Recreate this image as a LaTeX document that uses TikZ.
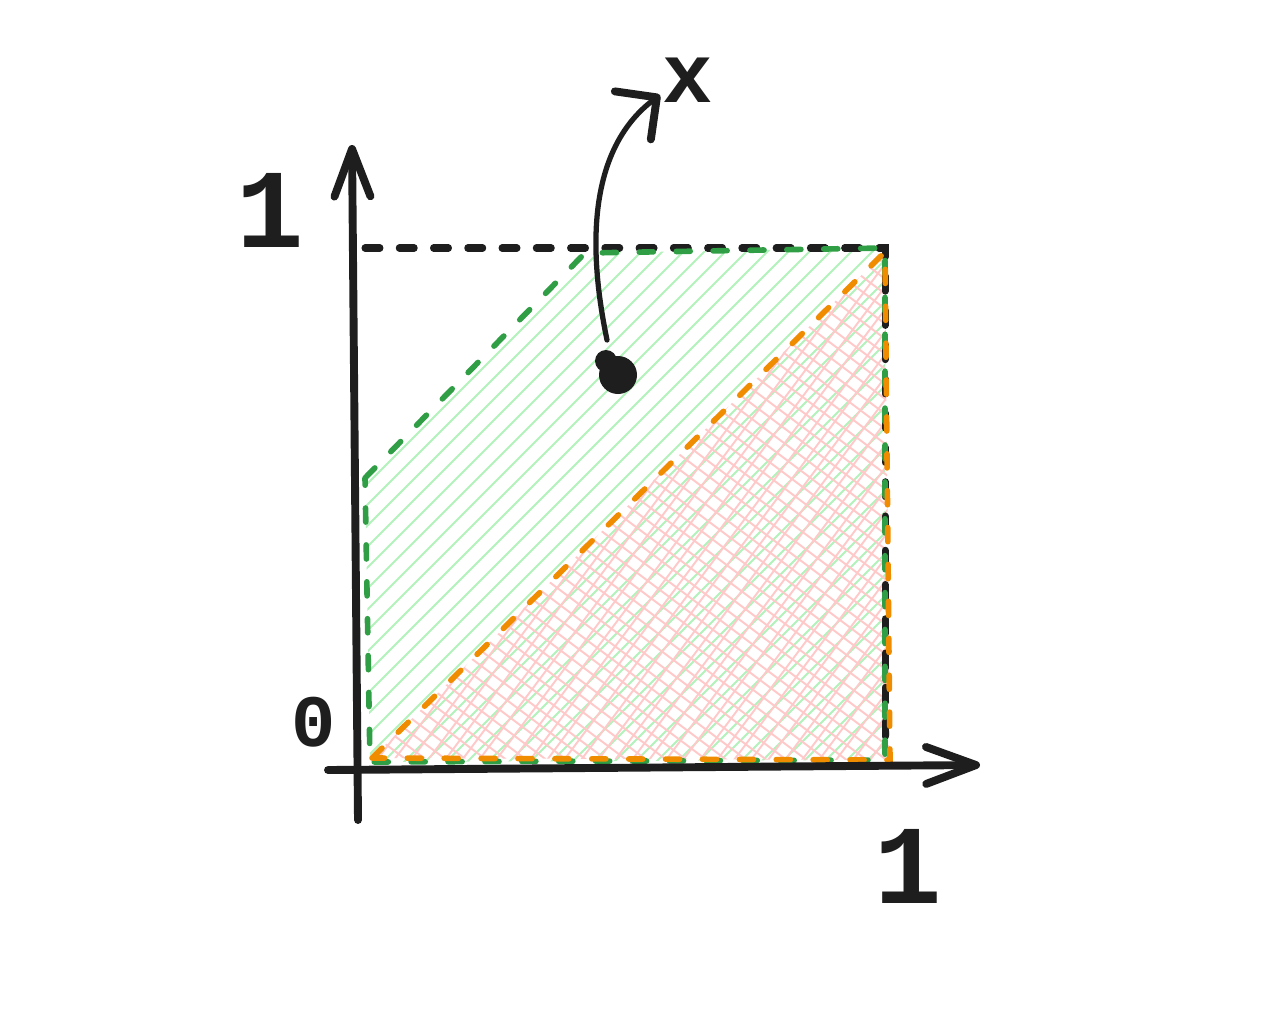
\documentclass[tikz,border=0pt]{standalone}
\usepackage{fontspec}
\newfontfamily\handfont{Liberation Mono}
\usetikzlibrary{arrows.meta,calc}
\definecolor{ink}{HTML}{1E1E1E}
\definecolor{greenedge}{HTML}{2F9E44}
\definecolor{greenhatch}{HTML}{B2F2BB}
\definecolor{orangeedge}{HTML}{F08C00}
\definecolor{pinkhatch}{HTML}{FFC9C9}

\begin{document}
\begin{tikzpicture}[x=0.02cm,y=-0.02cm,
	axis/.style={draw=ink, line width=4.5pt, line cap=round, line join=round},
	guide/.style={draw=ink, line width=4pt, line cap=round, dash pattern=on 8.5pt off 11pt},
	greenborder/.style={draw=greenedge, line width=3.2pt, line cap=round, dash pattern=on 8pt off 13pt},
	orangeborder/.style={draw=orangeedge, line width=3.2pt, line cap=round, dash pattern=on 8pt off 13pt},
	hatchgreen/.style={draw=greenhatch, line width=1.1pt},
	hatchpink/.style={draw=pinkhatch, line width=1.1pt},
	numlabel/.style={font=\handfont\bfseries\fontsize{64}{64}\selectfont, text=ink, inner sep=0pt},
	dotnode/.style={circle, fill=ink, minimum size=0.76cm, inner sep=0pt},
	pointer/.style={draw=ink, line width=3pt, line cap=round, -{Straight Barb[length=0.6cm, width=1.2cm, line width=4.5pt, round]}}]
	\useasboundingbox (0,0) rectangle (1266,1018);

	\coordinate (g1) at (365,478);
	\coordinate (g2) at (585,253);
	\coordinate (g3) at (885,248);
	\coordinate (g4) at (885,760);
	\coordinate (g5) at (370,762);
	\coordinate (o1) at (372,758);
	\coordinate (o2) at (885,252);
	\coordinate (o3) at (890,760);

	\begin{scope}
		\clip (g1) -- (g2) -- (g3) -- (g4) -- (g5) -- cycle;
		\foreach \k in {0,...,40}
			\draw[hatchgreen] (30+\k*21,800) -- ++(700,-700);
	\end{scope}

	\begin{scope}
		\clip (o1) -- (o2) -- (o3) -- cycle;
		\foreach \k in {0,...,61}
			\draw[hatchpink] (-380+\k*20,200) -- ++(800,600);
		\foreach \k in {0,...,32}
			\draw[hatchpink] (330+\k*17,800) -- ++(450,-600);
	\end{scope}

	\draw[guide] (365,248) -- (885,248) -- (885,752);
	\draw[greenborder] (g1) -- (g2) -- (g3) -- (g4) -- (g5) -- cycle;
	\draw[orangeborder] (o1) -- (o2) -- (o3) -- cycle;

	\draw[axis, -{Straight Barb[length=0.95cm, width=0.72cm, round]}] (358,820) -- (352,145);
	\draw[axis, -{Straight Barb[length=1cm, width=0.74cm, round]}] (328,770) -- (980,765);

	\node[numlabel] (yone) at (270,210) {1};
	\node[numlabel, font=\handfont\bfseries\fontsize{42}{42}\selectfont] (zero) at (314,722) {0};
	\node[numlabel] (xone) at (908,866) {1};
	\node[numlabel, font=\handfont\bfseries\fontsize{48}{48}\selectfont] (xlab) at (688,80) {x};

	\node[dotnode] (pt) at (618,375) {};
	\fill[ink] (606,361) circle (0.22cm);
	\coordinate (tail) at (607,340);
	\coordinate (tip) at (660,95);
	\draw[pointer] (tail) .. controls (582,220) and (600,140) .. (tip);
\end{tikzpicture}
\end{document}
